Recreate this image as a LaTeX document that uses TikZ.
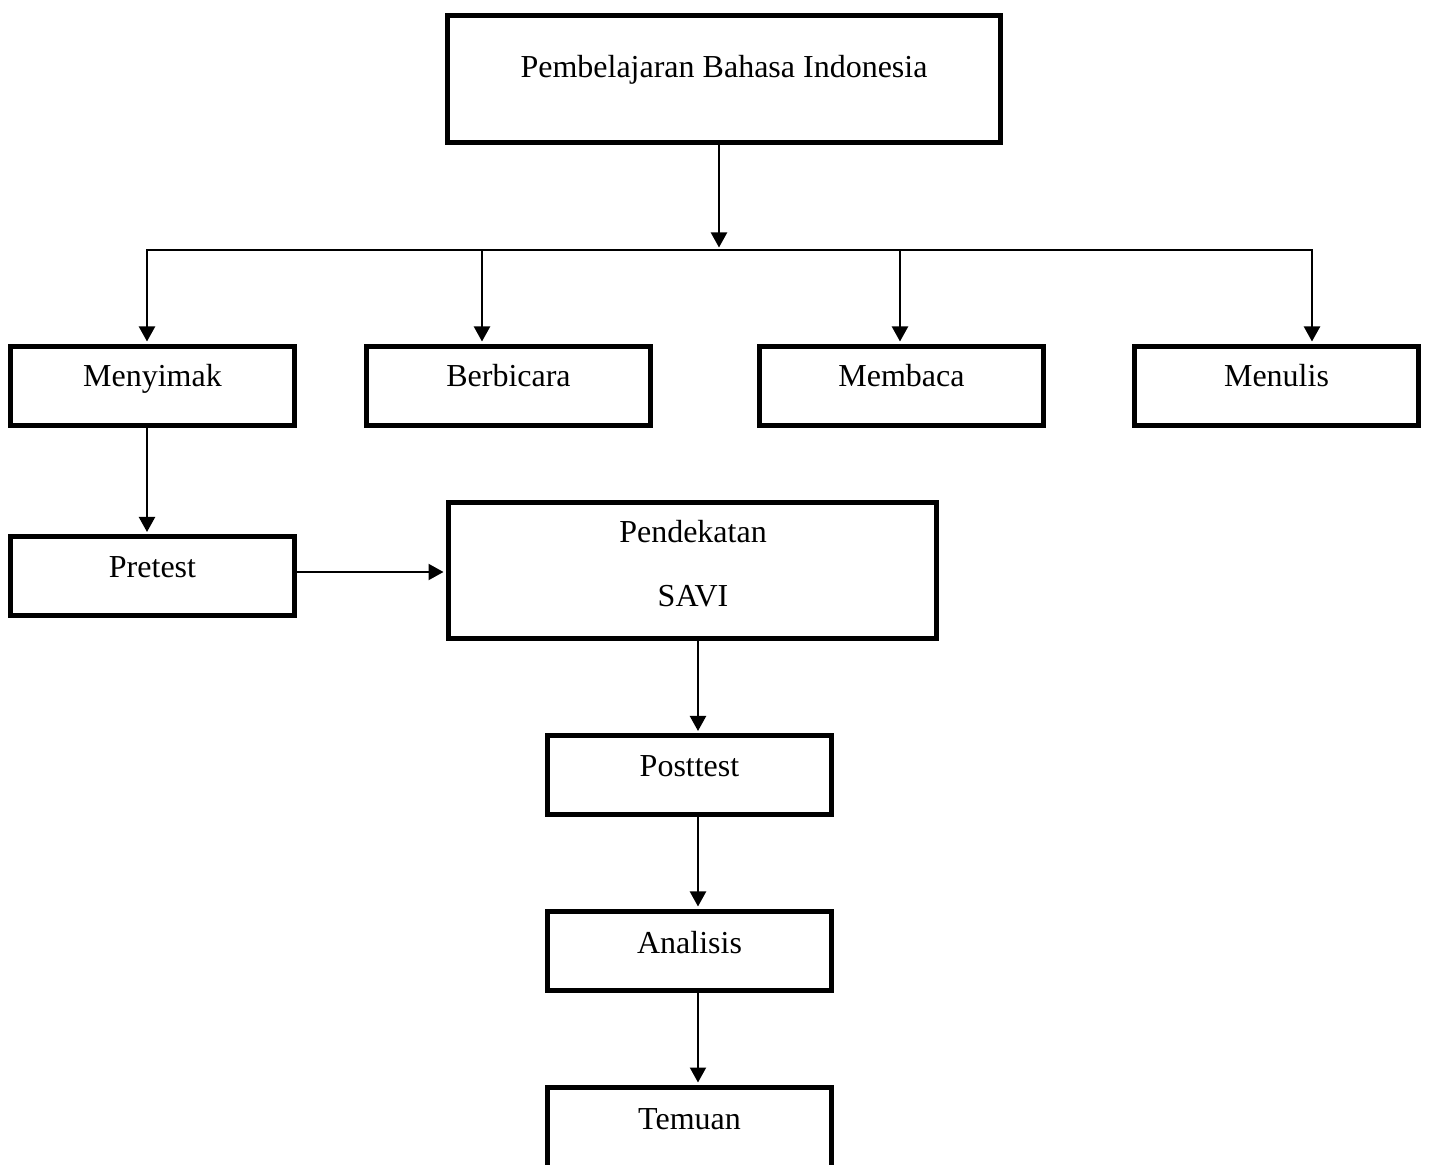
\documentclass[tikz,border=0pt]{standalone}
\usepackage{fontspec}
\setmainfont{Liberation Serif}
\usetikzlibrary{arrows.meta}
\begin{document}
\begin{tikzpicture}[x=0.5pt,y=-0.5pt,
  box/.style={draw, line width=2.5pt, rectangle, inner sep=0pt},
  smallbox/.style={box, minimum width=142pt, minimum height=39.5pt},
  txt/.style={anchor=base, inner sep=0pt, font=\fontsize{16}{19.2}\selectfont},
  conn/.style={line width=1.1pt},
  arr/.style={conn, -{Triangle[width=8pt,length=7.5pt]}, shorten >=1.25pt}]
\clip (0,0) rectangle (1431,1165);
\fill[white] (0,0) rectangle (1431,1165);

% boxes
\node[box, minimum width=276.5pt, minimum height=63.5pt] (top) at (724,79) {};
\node[txt] (ttop) at (724,78) {Pembelajaran Bahasa Indonesia};

\node[smallbox] (menyimak) at (152.5,386) {};
\node[txt] (tmenyimak) at (152.5,387) {Menyimak};
\node[smallbox] (berbicara) at (508.5,386) {};
\node[txt] (tberbicara) at (508.5,387) {Berbicara};
\node[smallbox] (membaca) at (901.5,386) {};
\node[txt] (tmembaca) at (901.5,387) {Membaca};
\node[smallbox] (menulis) at (1276.5,386) {};
\node[txt] (tmenulis) at (1276.5,387) {Menulis};

\node[smallbox] (pretest) at (152.5,576.5) {};
\node[txt] (tpretest) at (152.5,578) {Pretest};

\node[box, minimum width=244pt, minimum height=68pt] (savi) at (692.5,570.5) {};
\node[txt, align=center, font=\fontsize{16}{32}\selectfont] (tsavi) at (693,607) {Pendekatan\\SAVI};

\node[smallbox] (posttest) at (689.5,775.5) {};
\node[txt] (tposttest) at (689.5,777) {Posttest};

\node[smallbox] (analisis) at (689.5,951) {};
\node[txt] (tanalisis) at (689.5,953) {Analisis};

\node[box, minimum width=142pt, minimum height=100pt] (temuan) at (689.5,1187.5) {};
\node[txt] (ttemuan) at (689.5,1129) {Temuan};

% connectors
\coordinate (bus) at (719,250);
\coordinate (bl) at (147,250);
\coordinate (b2) at (482,250);
\coordinate (b3) at (900,250);
\coordinate (br) at (1312,250);
\draw[arr] (top.south -| bus) -- (bus);
\draw[conn, line cap=rect] (bl) -- (br);
\draw[arr] (bl) -- (bl |- menyimak.north);
\draw[arr] (b2) -- (b2 |- berbicara.north);
\draw[arr] (b3) -- (b3 |- membaca.north);
\draw[arr] (br) -- (br |- menulis.north);

\draw[arr] (menyimak.south -| bl) -- (pretest.north -| bl);
\coordinate (pr) at (0,572);
\draw[arr] (pretest.east |- pr) -- (savi.west |- pr);
\coordinate (cx) at (698,0);
\draw[arr] (savi.south -| cx) -- (posttest.north -| cx);
\draw[arr] (posttest.south -| cx) -- (analisis.north -| cx);
\draw[arr] (analisis.south -| cx) -- (temuan.north -| cx);
\end{tikzpicture}
\end{document}
